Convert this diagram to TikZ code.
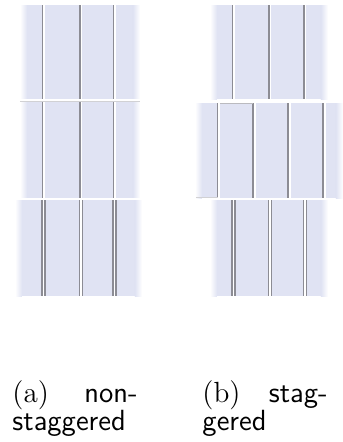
\documentclass[tikz,border=0pt]{standalone}
\usepackage{fontspec}
\usetikzlibrary{positioning}
\definecolor{tilecol}{HTML}{E0E3F3}
\definecolor{seamcol}{HTML}{8C8C94}

% one row of tiles: x0, x1, y0, y1 (picture pixels)
\newcommand{\tilerow}[4]{%
  \fill[tilecol] (#1+7,#3) rectangle (#2-7,#4);
  \shade[left color=white, right color=tilecol] (#1,#3) rectangle (#1+7,#4);
  \shade[left color=tilecol, right color=white] (#2-7,#3) rectangle (#2,#4);
}

\begin{document}
\begin{tikzpicture}[
    x=0.418pt, y=-0.418pt,
    seam/.style={draw=seamcol, line width=0.45pt},
    gap/.style={fill=white},
    captext/.style={inner sep=0pt, text width=52.3pt, anchor=north west,
      font=\fontsize{12.2}{11.8}\selectfont},
  ]
  \useasboundingbox[fill=white] (0,0) rectangle (343,442);

  % (a) non-staggered
  \tilerow{20}{140}{5}{99}
  \tilerow{20}{140}{101}{198}
  \tilerow{15}{142}{200}{296}
  \fill[gap] (20,99) rectangle (140,101);
  \fill[gap] (15,198) rectangle (142,200);
  \foreach \gx in {43.5,81,114.5} {
    \fill[gap] ({\gx-1},5) rectangle ({\gx+1.5},198);
    \draw[seam] ({\gx-1},5) -- ({\gx-1},99);
    \draw[seam] ({\gx-1},101) -- ({\gx-1},198);
    \fill[gap] ({\gx-1.5},200) rectangle ({\gx+1.5},296);
    \draw[seam] ({\gx-1.5},200) -- ({\gx-1.5},296);
    \draw[seam] ({\gx+1.5},200) -- ({\gx+1.5},296);
  }
  \draw[seam, draw=seamcol!40] (20,101.5) -- (140,101.5);

  % (b) staggered
  \tilerow{210}{328}{5}{99}
  \tilerow{195}{343}{103}{198}
  \tilerow{210}{328}{200}{296}
  \foreach \gx in {233.5,270,305} {
    \fill[gap] ({\gx-1},5) rectangle ({\gx+1.5},99);
    \draw[seam] ({\gx-1},5) -- ({\gx-1},99);
    \fill[gap] ({\gx-1.5},200) rectangle ({\gx+1.5},296);
    \draw[seam] ({\gx-1.5},200) -- ({\gx-1.5},296);
    \draw[seam] ({\gx+1.5},200) -- ({\gx+1.5},296);
  }
  \foreach \gx in {218.5,254,289,324} {
    \fill[gap] ({\gx-1},103) rectangle ({\gx+2},198);
    \draw[seam] ({\gx-1},103) -- ({\gx-1},198);
  }
  \draw[seam, draw=seamcol!60] (220,103.5) -- (253,103.5);
  \draw[seam, draw=seamcol!40] (196,197.5) -- (218,197.5);

  % captions
  \node[captext] (capa) at (12,380) {(a)\hfill\textsf{non-}\\\textsf{staggered}};
  \node[captext] (capb) at (202,380) {(b)\hfill\textsf{stag-}\\\textsf{gered}};
\end{tikzpicture}
\end{document}
